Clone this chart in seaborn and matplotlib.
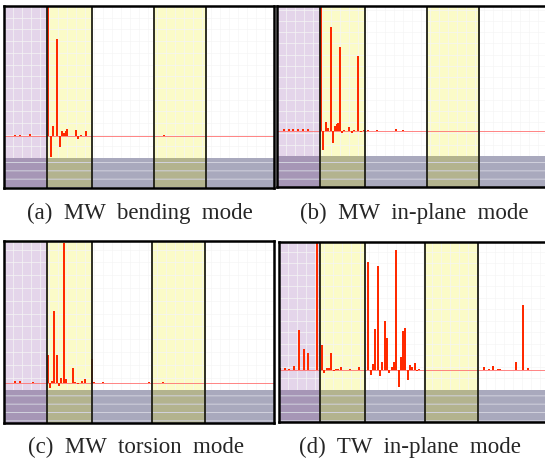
import numpy as np
import matplotlib
matplotlib.use("Agg")
import matplotlib.pyplot as plt
import seaborn as sns

# captions under each panel
captions = ["(a)  MW  bending  mode", "(b)  MW  in-plane  mode",
            "(c)  MW  torsion  mode", "(d)  TW  in-plane  mode"]

# bar positions (x units from panel left edge) and amplitudes (1 = tallest peak)
a_pos = [11, 16, 26, 44.3, 47, 48.7, 53.3, 56, 58, 60, 61.7, 63, 72, 74.3, 76.7, 81.7, 160]
a_val = [0.01, 0.01, 0.012, 1.0, -0.16, 0.08, 0.75, -0.085, 0.04, 0.02, 0.04, 0.055,
         0.045, -0.02, 0.01, 0.04, 0.008]

b_pos = [7.3, 11.7, 16.3, 21.3, 26, 30.7, 44, 46.3, 49, 50.7, 53.7, 56, 58, 59.7, 60.7,
         63, 64.7, 67, 72.3, 74.7, 76.7, 81.3, 83.7, 87.3, 91, 100, 119, 126]
b_val = [0.015, 0.015, 0.018, 0.012, 0.015, 0.015, 1.0, -0.15, 0.07, 0.02, 0.83, -0.1,
         0.04, 0.055, 0.06, 0.67, -0.015, 0.008, 0.03, -0.015, 0.005, 0.6, -0.01, 0.01,
         0.008, 0.008, 0.015, 0.004]

c_pos = [11, 16, 29, 44.3, 46, 48.3, 50.3, 52.7, 55, 57.3, 59.7, 62, 68.7, 71.3, 73.7,
         78.3, 81, 87.7, 90, 99.3, 145.3, 159.3]
c_val = [0.015, 0.015, 0.005, 0.2, -0.035, 0.017, 0.51, 0.2, -0.02, 0.04, 0.985, 0.03,
         0.11, 0.005, -0.005, 0.015, 0.03, 0.17, 0.01, 0.01, 0.008, 0.01]

d_pos = [1.3, 5.7, 10.3, 15, 19.7, 24.7, 29, 38.3,
         43, 45.3, 47.7, 50, 52.3, 54.7, 57, 59.3, 61.7, 70.7, 79.7,
         89.3, 91.7, 94, 96.3, 98.7, 101, 103.3, 105.7, 108, 110.3, 112.7, 115, 117.3,
         119.7, 122, 124.3, 126.3, 128.7, 131, 133.3, 135.7, 138, 140.3,
         205, 209.7, 214, 219, 221.3, 237.3, 244, 249]
d_val = [0.01, 0.01, 0.005, 0.025, 0.31, 0.165, 0.13, 1.0,
         0.19, -0.03, 0.015, 0.01, 0.13, -0.01, 0.008, 0.008, 0.02, 0.005, 0.02,
         0.84, -0.045, 0.045, 0.32, 0.81, -0.047, 0.057, 0.38, 0.245, -0.03, 0.023,
         0.062, 0.935, -0.135, 0.096, 0.305, 0.325, -0.08, 0.037, 0.02, 0.052, -0.01,
         0.003,
         0.02, 0.005, 0.03, 0.008, 0.005, 0.062, 0.51, 0.015]

# band edges (purple | yellow | white | yellow | white) per panel
a_edges = [0, 43, 88, 150, 202, 270]
b_edges = [0, 43, 88, 150, 202, 270]
c_edges = [0, 43, 88, 148, 201, 270]
d_edges = [0, 41, 86, 146, 199, 270]

band_cols = ["#e4d5ea", "#fbfbc8", "#ffffff", "#fbfbc8", "#ffffff"]
strip_cols = ["#a696b6", "#b3b38e", "#a9a9bd", "#b3b38e", "#a9a9bd"]

panels = [
    # data, edges, axes rect (fig fraction), ylim, strip top
    (a_pos, a_val, a_edges, [4 / 545, 275 / 463, 270 / 545, 182 / 463], (-0.4, 1.0), -0.17),
    (b_pos, b_val, b_edges, [277 / 545, 276 / 463, 270 / 545, 181 / 463], (-0.45, 1.0), -0.2),
    (c_pos, c_val, c_edges, [4 / 545, 40 / 463, 270 / 545, 182 / 463], (-0.28, 1.0), -0.05),
    (d_pos, d_val, d_edges, [279 / 545, 41 / 463, 270 / 545, 180 / 463], (-0.41, 1.0), -0.156),
]
cap_xy = [(0.257, 0.538), (0.761, 0.538), (0.25, 0.034), (0.752, 0.034)]

sns.set_style("white")
plt.rcParams["hatch.linewidth"] = 0.7

fig = plt.figure(figsize=(5.45, 4.63), dpi=100)

for (pos, val, edges, rect, ylim, strip_top), cap, (cx, cy) in zip(panels, captions, cap_xy):
    ax = fig.add_axes(rect)
    ax.set_xlim(0, 270)
    ax.set_ylim(*ylim)
    frac = (strip_top - ylim[0]) / (ylim[1] - ylim[0])

    for i in range(5):
        ax.axvspan(edges[i], edges[i + 1], color=band_cols[i], lw=0, zorder=0)
        ax.axvspan(edges[i], edges[i + 1], ymin=0, ymax=frac, facecolor=strip_cols[i],
                   edgecolor="#d2d2de", hatch="- -", lw=0, zorder=3)
    for e in edges[1:-1]:
        ax.axvline(e, color="#1e1e14", lw=1.3, zorder=4)

    ax.axhline(0, color="#ff7070", lw=0.6, zorder=1)

    step = np.diff(np.unique(pos)).min()
    sns.barplot(x=pos, y=val, native_scale=True, width=2.2 / step, color="#ff2a00",
                saturation=1, errorbar=None, linewidth=0, ax=ax, zorder=2)

    ax.set_xlim(0, 270)
    ax.set_ylim(*ylim)
    ax.set_xticks(np.arange(0, 270, 9))
    ax.set_yticks(np.arange(strip_top, ylim[1], 0.09))
    ax.grid(True, color="#f5f5f5", lw=0.5, zorder=0.5)
    ax.set_axisbelow(True)
    ax.tick_params(length=0, labelbottom=False, labelleft=False)
    ax.set_xlabel("")
    ax.set_ylabel("")
    for s in ax.spines.values():
        s.set_color("black")
        s.set_linewidth(1.8)
        s.set_zorder(5)

    fig.text(cx, cy, cap, ha="center", va="center", fontsize=16.5,
             family=["Liberation Serif", "DejaVu Serif"])

fig.savefig("out.png", dpi=100)
